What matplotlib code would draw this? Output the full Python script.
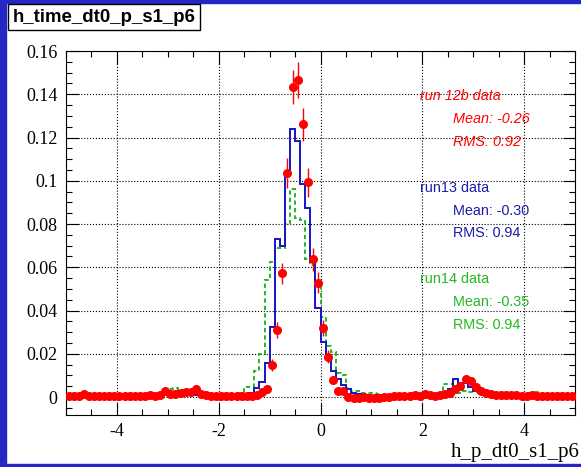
import matplotlib
matplotlib.use("Agg")
import matplotlib.pyplot as plt
from matplotlib.patches import Rectangle
import numpy as np

# histogram bins: 100 bins from -5 to 5
edges = np.linspace(-5, 5, 101)
centers = 0.5 * (edges[:-1] + edges[1:])

# run13 (blue solid)
run13 = [0.0003, 0.0003, 0.0002, 0.0004, 0.0003, 0.0002, 0.0003, 0.0004, 0.0003, 0.0002,
         0.0003, 0.0002, 0.0004, 0.0003, 0.0002, 0.0005, 0.0012, 0.0012, 0.0012, 0.0012,
         0.0025, 0.0025, 0.0028, 0.0029, 0.0029, 0.0010, 0.0010, 0.0006, 0.0004, 0.0003,
         0.0003, 0.0004, 0.0003, 0.0004, 0.0005, 0.0008, 0.0018, 0.0040, 0.0071, 0.0159,
         0.0322, 0.0732, 0.0700, 0.1025, 0.1240, 0.1186, 0.0987, 0.0876, 0.0626, 0.0410,
         0.0253, 0.0180, 0.0120, 0.0085, 0.0055, 0.0035, 0.0020, 0.0012, 0.0008, 0.0010,
         0.0006, 0.0008, 0.0005, 0.0007, 0.0006, 0.0008, 0.0010, 0.0012, 0.0016, 0.0014,
         0.0010, 0.0013, 0.0016, 0.0020, 0.0020, 0.0036, 0.0082, 0.0036, 0.0066, 0.0048,
         0.0030, 0.0023, 0.0020, 0.0016, 0.0014, 0.0012, 0.0011, 0.0012, 0.0010, 0.0011,
         0.0010, 0.0008, 0.0009, 0.0007, 0.0008, 0.0006, 0.0007, 0.0006, 0.0005, 0.0006]

# run14 (green dashed)
run14 = [0.0004, 0.0003, 0.0005, 0.0003, 0.0004, 0.0003, 0.0004, 0.0003, 0.0005, 0.0004,
         0.0003, 0.0004, 0.0003, 0.0005, 0.0004, 0.0006, 0.0005, 0.0008, 0.0010, 0.0015,
         0.0035, 0.0040, 0.0025, 0.0028, 0.0022, 0.0015, 0.0015, 0.0010, 0.0008, 0.0006,
         0.0008, 0.0010, 0.0012, 0.0017, 0.0017, 0.0048, 0.0048, 0.0120, 0.0198, 0.0540,
         0.0626, 0.0690, 0.0690, 0.0800, 0.0960, 0.0830, 0.0820, 0.0640, 0.0610, 0.0520,
         0.0370, 0.0235, 0.0210, 0.0110, 0.0100, 0.0040, 0.0030, 0.0030, 0.0020, 0.0020,
         0.0020, 0.0015, 0.0008, 0.0007, 0.0009, 0.0006, 0.0008, 0.0010, 0.0009, 0.0012,
         0.0010, 0.0012, 0.0010, 0.0015, 0.0060, 0.0060, 0.0045, 0.0018, 0.0030, 0.0025,
         0.0025, 0.0018, 0.0015, 0.0012, 0.0010, 0.0012, 0.0010, 0.0009, 0.0011, 0.0010,
         0.0012, 0.0018, 0.0025, 0.0012, 0.0008, 0.0007, 0.0008, 0.0006, 0.0007, 0.0006]

# run 12b (red points with errors)
run12b = [0.0005, 0.0004, 0.0006, 0.0014, 0.0005, 0.0004, 0.0006, 0.0005, 0.0004, 0.0006,
          0.0005, 0.0004, 0.0006, 0.0005, 0.0004, 0.0006, 0.0008, 0.0006, 0.0010, 0.0028,
          0.0014, 0.0015, 0.0018, 0.0022, 0.0025, 0.0037, 0.0014, 0.0008, 0.0006, 0.0005,
          0.0004, 0.0006, 0.0005, 0.0004, 0.0006, 0.0004, 0.0005, 0.0010, 0.0023, 0.0036,
          0.0148, 0.0310, 0.0572, 0.1035, 0.1432, 0.1466, 0.1261, 0.0993, 0.0637, 0.0529,
          0.0318, 0.0187, 0.0080, 0.0029, 0.0029, 0.0002, -0.0006, -0.0004, -0.0002, -0.0003,
          -0.0004, -0.0003, 0.0000, 0.0002, 0.0004, 0.0003, 0.0006, 0.0005, 0.0008, 0.0006,
          0.0012, 0.0008, 0.0006, 0.0010, 0.0015, 0.0020, 0.0035, 0.0050, 0.0082, 0.0072,
          0.0046, 0.0026, 0.0020, 0.0012, 0.0010, 0.0008, 0.0009, 0.0010, 0.0008, 0.0006,
          0.0007, 0.0008, 0.0006, 0.0005, 0.0007, 0.0004, 0.0006, 0.0005, 0.0004, 0.0005]

run12b_err = [0.0005] * 36 + [
    0.0006, 0.0007, 0.0010, 0.0013,
    0.0026, 0.0037, 0.0050, 0.0068, 0.0078, 0.0081, 0.0075, 0.0066, 0.0053, 0.0048,
    0.0037, 0.0029, 0.0019, 0.0011, 0.0011] + [0.0005] * 21 + [
    0.0010, 0.0012, 0.0015, 0.0019, 0.0018, 0.0014, 0.0011, 0.0009] + [0.0005] * 16

title = "h_time_dt0_p_s1_p6"
xlabel = "h_p_dt0_s1_p6"

W, H = 581, 467
plt.rcParams['axes.unicode_minus'] = False

fig = plt.figure(figsize=(W / 100, H / 100), dpi=100)
fig.patch.set_facecolor('white')

# blue canvas border
border = '#2626c4'
fig.add_artist(Rectangle((0, 0), 6 / W, 1, transform=fig.transFigure, color=border, zorder=0))
fig.add_artist(Rectangle((0, 1 - 3 / H), 1, 3 / H, transform=fig.transFigure, color=border, zorder=0))
fig.add_artist(Rectangle((0, 0), 1, 3 / H, transform=fig.transFigure, color=border, zorder=0))

ax = fig.add_axes([66 / W, 1 - 415 / H, (575 - 66) / W, (415 - 51) / H])

ax.stairs(run14, edges, baseline=None, color='#22b822', linewidth=1.4,
          linestyle=(0, (2.2, 1.6)), zorder=3)
ax.stairs(run13, edges, baseline=None, color='#1414c8', linewidth=1.4, zorder=4)
ax.errorbar(centers, run12b, yerr=run12b_err, fmt='o', color='#ff0000', ms=5.5,
            elinewidth=1.0, capsize=0, zorder=5)

ax.set_xlim(-5, 5)
ax.set_ylim(-0.0083, 0.16)
ax.set_xticks([-4, -2, 0, 2, 4])
ax.set_xticks(np.arange(-5, 5.01, 0.5), minor=True)
ax.set_yticks(np.arange(0, 0.161, 0.02))
ax.set_yticks(np.arange(-0.005, 0.1601, 0.005), minor=True)
ax.set_yticklabels(['0', '0.02', '0.04', '0.06', '0.08', '0.1', '0.12', '0.14', '0.16'])
ax.set_xticklabels(['-4', '-2', '0', '2', '4'])
ax.tick_params(which='both', direction='in', top=True, right=True, width=0.8,
               labelsize=13, pad=6)
ax.tick_params(which='major', length=9)
ax.tick_params(which='minor', length=4.5)
for lab in ax.get_xticklabels() + ax.get_yticklabels():
    lab.set_family('Liberation Serif')
ax.grid(True, which='major', linestyle=':', color='black', linewidth=0.8)
for s in ax.spines.values():
    s.set_linewidth(0.8)

# stats text
sans = 'Liberation Sans'
fs = 10.4
def ftext(px, py, s, **kw):
    fig.text(px / W, 1 - py / H, s, va='center', ha='left', family=sans, fontsize=fs, **kw)

ftext(420, 96, 'run 12b data', color='#ff0000', style='italic')
ftext(453, 119, 'Mean: -0.26', color='#ff0000', style='italic')
ftext(453, 142, 'RMS: 0.92', color='#ff0000', style='italic')
ftext(420, 188, 'run13 data', color='#1c1caa')
ftext(453, 211, 'Mean: -0.30', color='#1c1caa')
ftext(453, 233, 'RMS: 0.94', color='#1c1caa')
ftext(420, 279, 'run14 data', color='#22b822')
ftext(453, 302, 'Mean: -0.35', color='#22b822')
ftext(453, 325, 'RMS: 0.94', color='#22b822')

# title box
fig.add_artist(Rectangle((8 / W, 1 - 30 / H), (200 - 8) / W, 26 / H, transform=fig.transFigure,
                         facecolor='white', edgecolor='black', linewidth=1.0, zorder=5))
fig.text(104 / W, 1 - 17 / H, title, ha='center', va='center', family=sans,
         fontweight='bold', fontsize=13.4, zorder=6)

fig.text(580 / W, 1 - 452 / H, xlabel, ha='right', va='center',
         family='Liberation Serif', fontsize=15)

fig.savefig('out.png', dpi=100)
